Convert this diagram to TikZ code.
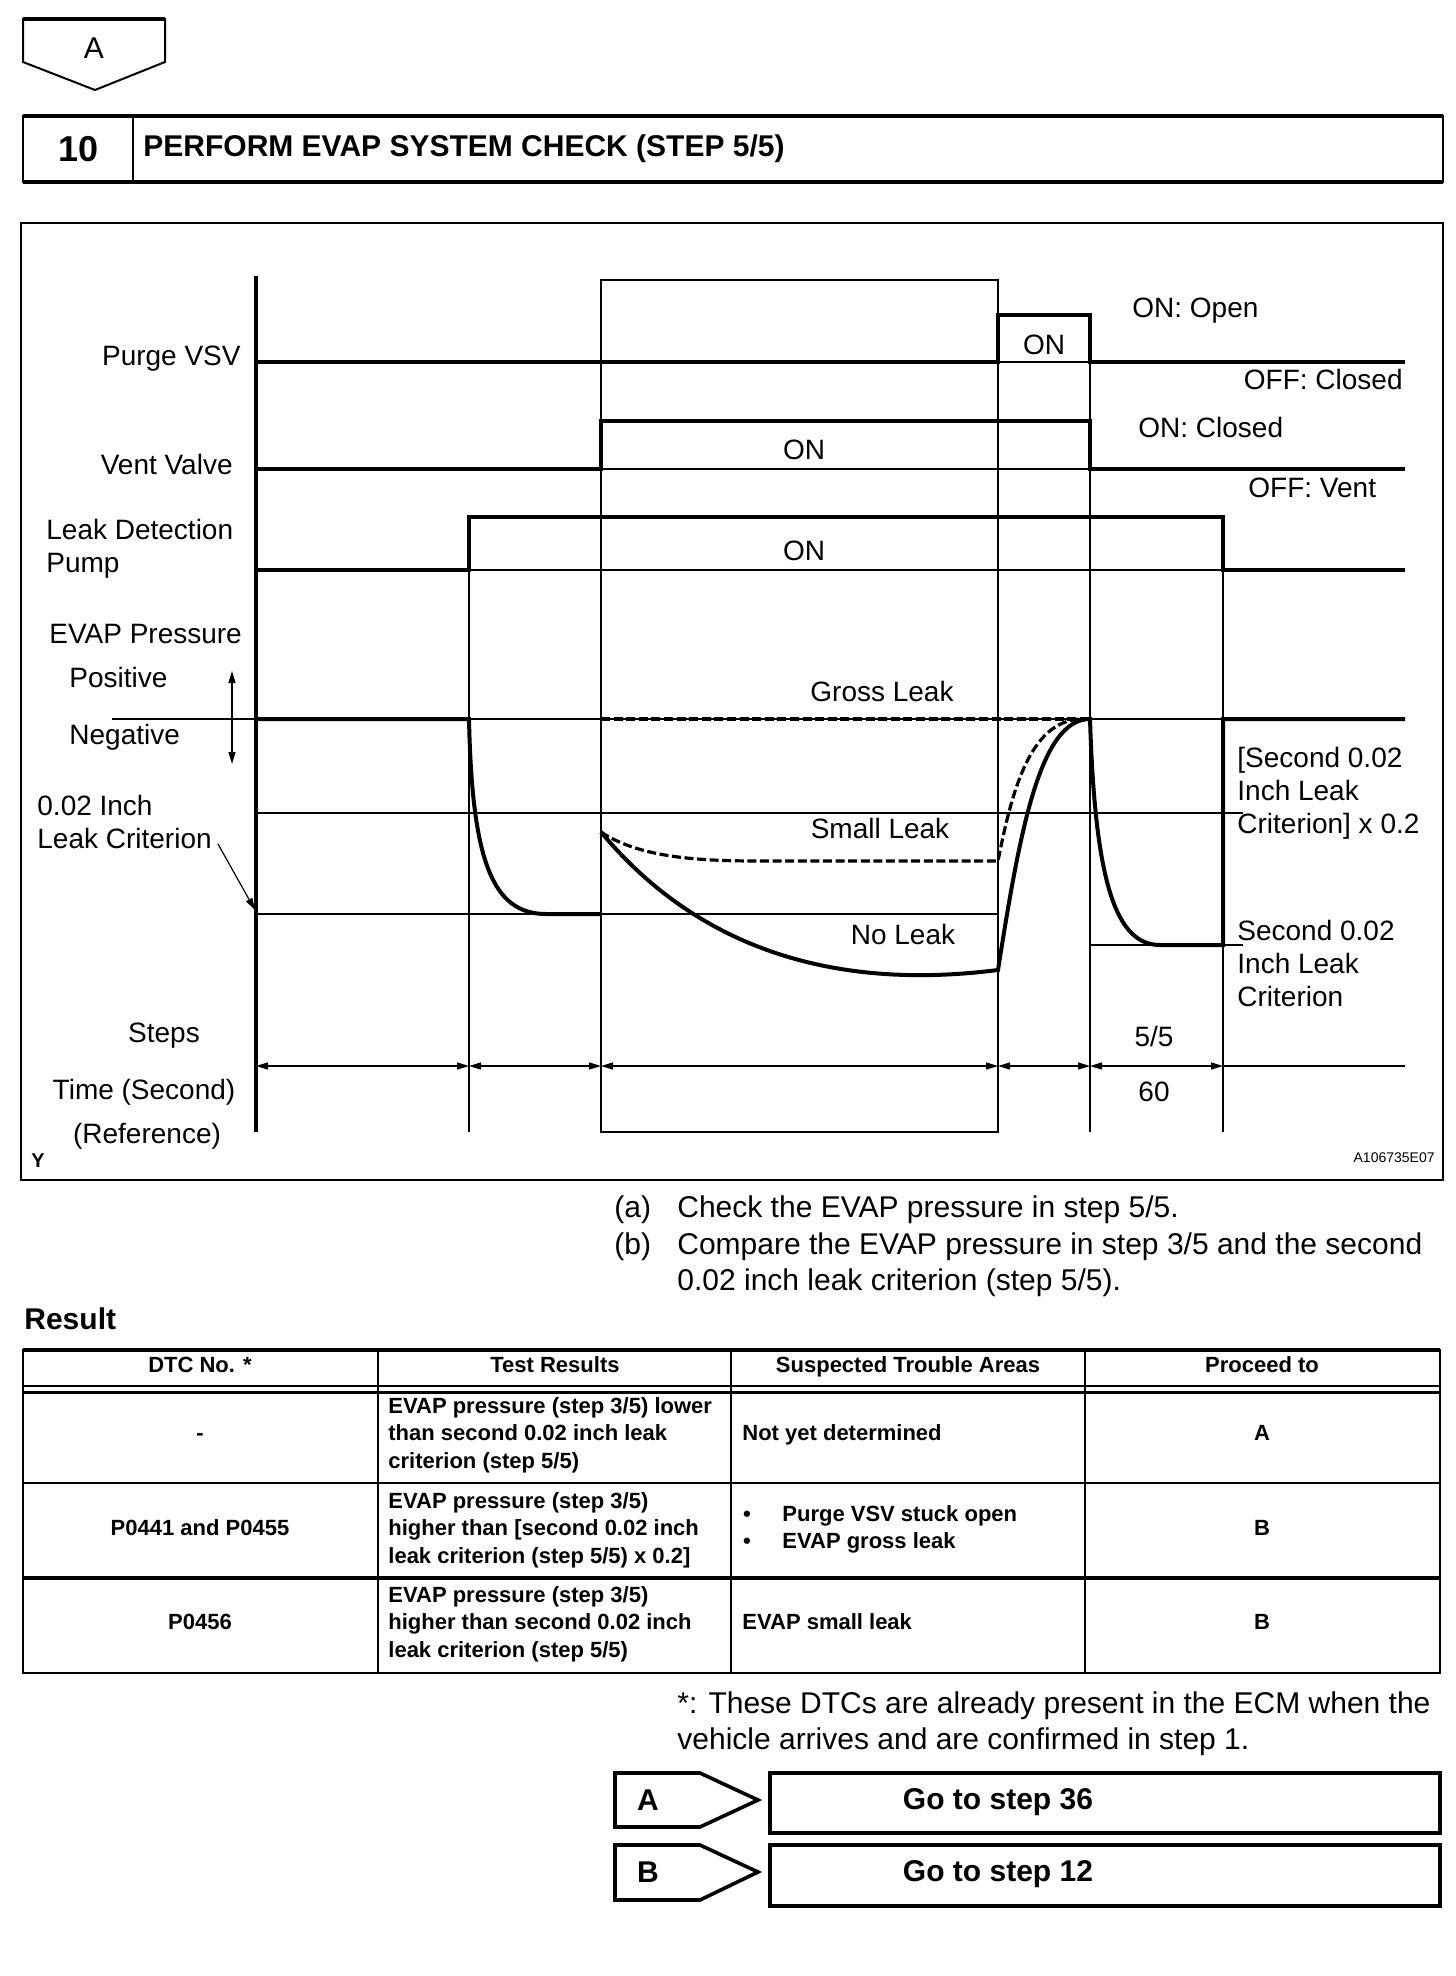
\documentclass[tikz,border=0pt]{standalone}
\usepackage{fontspec}
\setmainfont{Liberation Sans}
\usetikzlibrary{arrows.meta,positioning}

\begin{document}
\begin{tikzpicture}[
      x=0.5pt, y=-0.5pt,
      lbl/.style={inner sep=0pt, font=\fontsize{14}{16.5}\selectfont, align=left},
      txt/.style={inner sep=0pt, anchor=west, font=\fontsize{15}{18}\selectfont},
      cell/.style={inner sep=0pt, font=\fontsize{11}{13.8}\selectfont\bfseries, align=left},
      hcell/.style={cell, text height=8pt, text depth=2.4pt},
      bigbold/.style={inner sep=0pt, font=\fontsize{15}{18}\selectfont\bfseries},
      sig/.style={line width=2pt},
      thinln/.style={line width=0.6pt},
      dashsig/.style={line width=1.6pt, dash pattern=on 4.5pt off 1.8pt},
      dimarr/.style={line width=0.7pt, {Triangle[length=6pt,width=3.5pt]}-{Triangle[length=6pt,width=3.5pt]}},
      boxln/.style={line width=1pt},
      chev/.style={line width=1.8pt, line join=miter}
    ]
      \useasboundingbox (0,0) rectangle (1456,1976);

      % top marker and step header
      \draw[boxln] (23,19) -- (165,19) -- (165,62) -- (95,90) -- (23,62) -- cycle;
      \draw[line width=2pt] (23,19) -- (165,19);
      \node[inner sep=0pt, font=\fontsize{15}{18}\selectfont] (topA) at (94,48) {A};
      \draw[boxln] (23,116) rectangle (1443,182);
      \draw[line width=2.2pt] (23,116) -- (1443,116) (23,182) -- (1443,182);
      \draw[boxln] (133,116) -- (133,182);
      \node[inner sep=0pt, font=\fontsize{18}{21}\selectfont\bfseries] (stepno) at (79,149) {10};
      \node[bigbold, anchor=west] (title) at (143,149) {PERFORM EVAP SYSTEM CHECK (STEP 5/5)};

      % chart frame and grid
      \draw[boxln] (21,223) rectangle (1443,1180);
      \draw[thinln] (601,280) rectangle (998,1132);
      \draw[thinln] (469,517) -- (469,1132);
      \draw[thinln] (1090,315) -- (1090,1132);
      \draw[thinln] (1223,517) -- (1223,1132);
      \draw[thinln] (998,362) -- (1090,362);
      \draw[thinln] (601,469) -- (1090,469);
      \draw[thinln] (469,570) -- (1223,570);
      \draw[thinln] (112,719) -- (1223,719);
      \draw[thinln] (256,813) -- (1243,813);
      \draw[thinln] (256,914) -- (998,914);
      \draw[thinln] (1090,945) -- (1243,945);
      \draw[thinln] (1223,1066) -- (1405,1066);
      \draw[sig] (256,276) -- (256,1132);

      % signals
      \draw[sig] (256,362) -- (998,362) -- (998,315) -- (1090,315) -- (1090,362) -- (1405,362);
      \draw[sig] (256,469) -- (601,469) -- (601,421) -- (1090,421) -- (1090,469) -- (1405,469);
      \draw[sig] (256,570) -- (469,570) -- (469,517) -- (1223,517) -- (1223,570) -- (1405,570);

      % EVAP pressure
      \draw[sig] (256,719) -- (469,719) .. controls (472,860) and (492,914) .. (546,914) -- (601,914);
      \draw[dashsig] (601,719) -- (1090,719);
      \draw[dashsig] (601,832) .. controls (640,858) and (700,861) .. (760,861) -- (998,861)
        .. controls (1012,790) and (1030,722) .. (1080,719);
      \draw[sig] (601,832) .. controls (720,975) and (880,985) .. (998,970)
        .. controls (1020,830) and (1040,719) .. (1090,719)
        .. controls (1095,880) and (1115,945) .. (1160,945) -- (1223,945) -- (1223,719) -- (1405,719);

      % arrows
      \foreach \a/\b in {256/469, 469/601, 601/998, 998/1090, 1090/1223}
        \draw[dimarr] (\a,1066) -- (\b,1066);
      \draw[dimarr] (232,764) -- (232,671);
      \draw[thinln, -{Triangle[length=6pt,width=3.5pt]}] (218,844) -- (255,910);

      % left labels
      \node[lbl, anchor=east] (purge) at (241,359) {Purge VSV};
      \node[lbl, anchor=east] (vent) at (233,464) {Vent Valve};
      \node[lbl, anchor=west] (pump) at (46,549) {Leak Detection\\Pump};
      \node[lbl, anchor=west] (evap) at (49,634) {EVAP Pressure};
      \node[lbl, anchor=west] (pos) at (69,677) {Positive};
      \node[lbl, anchor=west] (neg) at (69,737) {Negative};
      \node[lbl, anchor=west] (crit) at (37,822) {0.02 Inch\\Leak Criterion};
      \node[lbl] (steps) at (164,1036) {Steps};
      \node[lbl] (time) at (144,1092) {Time (Second)};
      \node[lbl] (ref) at (147,1136) {(Reference)};
      \node[inner sep=0pt, font=\fontsize{10}{11}\selectfont\bfseries] (ymark) at (38,1161) {Y};
      \node[inner sep=0pt, anchor=east, font=\fontsize{7}{8}\selectfont] (figid) at (1435,1158) {A106735E07};

      % chart labels
      \node[lbl] (onpurge) at (1044,345) {ON};
      \node[lbl] (onvent) at (804,450) {ON};
      \node[lbl] (onpump) at (804,551) {ON};
      \node[lbl, anchor=west] (onopen) at (1132,311) {ON: Open};
      \node[lbl, anchor=east] (offclosed) at (1403,379) {OFF: Closed};
      \node[lbl, anchor=west] (onclosed) at (1138,427) {ON: Closed};
      \node[lbl, anchor=west] (offvent) at (1248,488) {OFF: Vent};
      \node[lbl] (gross) at (882,691) {Gross Leak};
      \node[lbl] (small) at (880,828) {Small Leak};
      \node[lbl] (noleak) at (903,934) {No Leak};
      \node[lbl, anchor=west] (crit2x) at (1237,793) {[Second 0.02\\Inch Leak\\Criterion] x 0.2};
      \node[lbl, anchor=west] (crit2) at (1237,963) {Second 0.02\\Inch Leak\\Criterion};
      \node[lbl] (stepfive) at (1154,1036) {5/5};
      \node[lbl] (sixty) at (1154,1092) {60};

      % instructions
      \node[txt] (ia) at (614,1210) {(a)};
      \node[txt] (ta) at (677,1210) {Check the EVAP pressure in step 5/5.};
      \node[txt] (ib) at (614,1247) {(b)};
      \node[txt] (tb) at (677,1247) {Compare the EVAP pressure in step 3/5 and the second};
      \node[txt] (tb2) at (677,1283) {0.02 inch leak criterion (step 5/5).};
      \node[bigbold, anchor=west] (result) at (24,1319) {Result};

      % result table
      \draw[boxln] (23,1350) rectangle (1440,1673);
      \draw[line width=2pt] (23,1350) -- (1440,1350);
      \draw[line width=0.6pt] (23,1386) -- (1440,1386);
      \draw[line width=1.5pt] (23,1392) -- (1440,1392);
      \draw[boxln] (23,1483) -- (1440,1483);
      \draw[line width=2pt] (23,1578) -- (1440,1578);
      \foreach \c in {378, 731, 1085}
        \draw[boxln] (\c,1350) -- (\c,1673);

      \node[hcell] (hdtc) at (200,1367) {DTC No. *};
      \node[hcell] (htest) at (555,1367) {Test Results};
      \node[hcell] (harea) at (908,1367) {Suspected Trouble Areas};
      \node[hcell] (hgo) at (1262,1367) {Proceed to};

      \node[hcell] (dtca) at (200,1435) {-};
      \node[cell, anchor=west] (testa) at (388,1435) {EVAP pressure (step 3/5) lower\\than second 0.02 inch leak\\criterion (step 5/5)};
      \node[hcell, anchor=west] (areaa) at (742,1435) {Not yet determined};
      \node[hcell] (goa) at (1262,1435) {A};

      \node[hcell] (dtcb) at (200,1530) {P0441 and P0455};
      \node[cell, anchor=west] (testb) at (388,1530) {EVAP pressure (step 3/5)\\higher than [second 0.02 inch\\leak criterion (step 5/5) x 0.2]};
      \node[hcell] (bula) at (747,1516) {•};
      \node[hcell, anchor=west] (areab1) at (782,1516) {Purge VSV stuck open};
      \node[hcell] (bulb) at (747,1543) {•};
      \node[hcell, anchor=west] (areab2) at (782,1543) {EVAP gross leak};
      \node[hcell] (gob) at (1262,1530) {B};

      \node[hcell] (dtcc) at (200,1624) {P0456};
      \node[cell, anchor=west] (testc) at (388,1624) {EVAP pressure (step 3/5)\\higher than second 0.02 inch\\leak criterion (step 5/5)};
      \node[hcell, anchor=west] (areac) at (742,1624) {EVAP small leak};
      \node[hcell] (goc) at (1262,1624) {B};

      \node[txt] (note1) at (677,1706) {*: These DTCs are already present in the ECM when the};
      \node[txt] (note2) at (677,1742) {vehicle arrives and are confirmed in step 1.};

      % go to boxes
      \draw[chev] (615,1773) -- (700,1773) -- (758,1800) -- (700,1827) -- (615,1827) -- cycle;
      \draw[line width=2pt] (770,1773) rectangle (1440,1833);
      \node[bigbold] (markA) at (648,1800) {A};
      \node[bigbold] (stepA) at (998,1802) {Go to step 36};
      \draw[chev] (615,1845) -- (700,1845) -- (758,1872) -- (700,1900) -- (615,1900) -- cycle;
      \draw[line width=2pt] (770,1845) rectangle (1440,1906);
      \node[bigbold] (markB) at (648,1872) {B};
      \node[bigbold] (stepB) at (998,1874) {Go to step 12};
    \end{tikzpicture}
\end{document}
